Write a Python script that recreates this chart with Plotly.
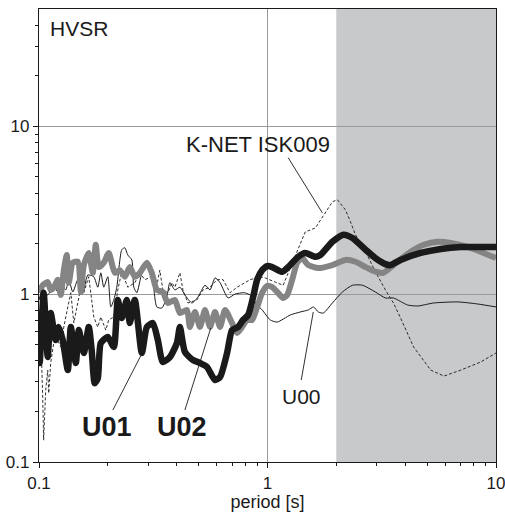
import numpy as np
import plotly.graph_objects as go

# ---- HVSR curves (period [s], H/V ratio) ----
knet_period = [0.100, 0.1017, 0.1038, 0.1048, 0.1070, 0.1092, 0.1103, 0.1125, 0.1160, 0.1208,
               0.1245, 0.1284, 0.1337, 0.1378, 0.1420, 0.1479, 0.1525, 0.1571, 0.1651, 0.1737,
               0.1808, 0.1864, 0.1960, 0.2020, 0.2125, 0.2212, 0.2303, 0.2447, 0.2626, 0.2763,
               0.2906, 0.3117, 0.3279, 0.3379, 0.3483, 0.3664, 0.3815, 0.3933, 0.4137, 0.4264,
               0.4485, 0.4912, 0.5220, 0.5602, 0.6013, 0.6390, 0.6858, 0.7361, 0.8396, 0.9290,
               0.9772, 1.081, 1.171, 1.257, 1.363, 1.463, 1.620, 1.738, 1.923, 2.023,
               2.193, 2.307, 2.426, 2.686, 2.966, 3.281, 3.559, 3.822, 4.361, 5.181,
               5.913, 7.018, 8.565, 10.0]
knet_hvsr = [0.805, 0.611, 0.244, 0.135, 0.268, 0.353, 0.257, 0.389, 0.511, 0.533,
             0.484, 0.637, 0.839, 1.02, 0.673, 0.899, 1.10, 1.02, 1.27, 0.731,
             0.637, 0.731, 0.611, 0.702, 0.731, 1.06, 1.36, 1.10, 1.17, 1.34,
             1.22, 1.27, 1.13, 1.39, 1.06, 1.02, 1.17, 1.10, 1.34, 1.06,
             0.886, 0.924, 1.06, 1.10, 1.22, 1.22, 1.02, 1.10, 1.22, 1.27,
             1.25, 1.18, 1.13, 1.43, 1.84, 2.35, 2.48, 2.89, 3.55, 3.65,
             3.18, 2.70, 2.26, 1.79, 1.36, 1.06, 0.886, 0.721, 0.484, 0.353,
             0.325, 0.353, 0.394, 0.446]

u00_period = [0.100, 0.1038, 0.1092, 0.1160, 0.1208, 0.1245, 0.1310, 0.1350, 0.1406, 0.1479,
              0.1556, 0.1635, 0.1737, 0.1808, 0.1864, 0.1921, 0.2000, 0.2062, 0.2125, 0.2190,
              0.2303, 0.2374, 0.2447, 0.2548, 0.2600, 0.2680, 0.2819, 0.2966, 0.3117, 0.3279,
              0.3448, 0.3627, 0.3739, 0.3933, 0.4137, 0.4351, 0.4670, 0.4962, 0.5326, 0.5602,
              0.5893, 0.6199, 0.6721, 0.7200, 0.7900, 0.8396, 0.9011, 0.9480, 1.028, 1.103,
              1.257, 1.391, 1.508, 1.590, 1.669, 1.756, 1.923, 2.128, 2.354, 2.605,
              2.966, 3.281, 3.559, 4.102, 4.541, 5.340, 6.804, 8.306, 10.0]
u00_hvsr = [0.924, 1.06, 0.989, 1.13, 1.03, 1.17, 1.06, 1.22, 1.03, 1.22,
            1.02, 1.30, 1.27, 1.10, 1.34, 1.10, 1.27, 0.839, 0.924, 1.10,
            1.84, 1.89, 1.71, 1.60, 1.10, 1.02, 1.34, 1.54, 1.34, 0.839,
            0.827, 0.962, 1.17, 1.06, 1.10, 0.989, 0.886, 0.962, 1.13, 1.06,
            1.25, 1.17, 0.949, 1.00, 1.02, 0.989, 0.862, 0.805, 0.702, 0.682,
            0.751, 0.783, 0.805, 0.839, 0.783, 0.772, 0.886, 1.03, 1.13, 1.13,
            1.03, 0.949, 0.949, 0.862, 0.850, 0.886, 0.899, 0.874, 0.839]

u02_period = [0.100, 0.1038, 0.1092, 0.1125, 0.1160, 0.1208, 0.1245, 0.1284, 0.1323, 0.1350,
              0.1406, 0.1479, 0.1525, 0.1571, 0.1651, 0.1719, 0.1772, 0.1827, 0.1921, 0.2020,
              0.2146, 0.2257, 0.2374, 0.2497, 0.2626, 0.2763, 0.2966, 0.3117, 0.3279, 0.3483,
              0.3664, 0.3933, 0.4137, 0.4440, 0.4576, 0.4814, 0.5064, 0.5326, 0.5602, 0.5893,
              0.6199, 0.6521, 0.6998, 0.7361, 0.7743, 0.8145, 0.8567, 0.9011, 0.9480, 0.9971,
              1.049, 1.103, 1.171, 1.219, 1.283, 1.349, 1.419, 1.508, 1.669, 1.923,
              2.193, 2.426, 2.686, 2.966, 3.216, 3.706, 4.230, 4.829, 5.561, 6.343,
              7.527, 8.830, 10.0]
u02_hvsr = [1.02, 1.13, 1.18, 1.06, 1.09, 1.22, 0.99, 1.39, 1.71, 1.17,
            1.54, 1.56, 1.03, 1.49, 1.76, 1.34, 1.97, 1.45, 1.54, 1.76,
            1.34, 1.39, 1.27, 1.45, 1.27, 1.34, 1.54, 1.34, 1.06, 1.03,
            0.886, 0.924, 0.772, 0.805, 0.637, 0.783, 0.637, 0.805, 0.637, 0.783,
            0.637, 0.805, 0.673, 0.587, 0.637, 0.702, 0.702, 0.839, 1.02, 1.12,
            1.10, 1.03, 0.949, 0.989, 1.22, 1.54, 1.64, 1.49, 1.43, 1.49,
            1.60, 1.56, 1.45, 1.36, 1.34, 1.56, 1.79, 1.97, 2.05, 2.02,
            1.91, 1.76, 1.64]

u01_period = [0.100, 0.1007, 0.1048, 0.1092, 0.1125, 0.1183, 0.1220, 0.1270, 0.1337, 0.1378,
              0.1449, 0.1494, 0.1571, 0.1651, 0.1700, 0.1754, 0.1808, 0.1864, 0.2000, 0.2125,
              0.2212, 0.2303, 0.2423, 0.2497, 0.2626, 0.2819, 0.2966, 0.3149, 0.3312, 0.3483,
              0.3739, 0.4013, 0.4137, 0.4351, 0.4718, 0.5064, 0.5435, 0.5893, 0.6199, 0.6654,
              0.6998, 0.7436, 0.7821, 0.8228, 0.8654, 0.9011, 0.9480, 0.9971, 1.049, 1.160,
              1.232, 1.363, 1.463, 1.620, 1.703, 1.923, 2.149, 2.354, 2.686, 2.966,
              3.281, 3.453, 3.822, 4.684, 5.736, 7.018, 8.565, 10.0]
u01_hvsr = [0.502, 0.389, 1.02, 0.422, 0.772, 0.533, 0.637, 0.533, 0.353, 0.637,
            0.389, 0.611, 0.446, 0.637, 0.465, 0.295, 0.315, 0.511, 0.555, 0.484,
            0.924, 0.720, 0.924, 0.673, 0.924, 0.446, 0.637, 0.673, 0.533, 0.394,
            0.422, 0.511, 0.637, 0.452, 0.405, 0.389, 0.368, 0.308, 0.321, 0.446,
            0.611, 0.637, 0.702, 0.751, 0.962, 1.22, 1.39, 1.47, 1.45, 1.36,
            1.45, 1.67, 1.76, 1.67, 1.71, 2.05, 2.26, 2.16, 1.84, 1.64,
            1.51, 1.49, 1.60, 1.76, 1.86, 1.91, 1.91, 1.91]

# ---- labels: text, label centre (period, ratio), leader start and end ----
labels = [
    dict(text="K-NET ISK009", at=(0.9085, 7.77), size=22, bold=False,
         lead=((1.232, 6.50), (1.738, 3.05))),
    dict(text="U00", at=(1.405, 0.247), size=21, bold=False,
         lead=((1.405, 0.308), (1.586, 0.783))),
    dict(text="U01", at=(0.1975, 0.1625), size=27, bold=True,
         lead=((0.2105, 0.204), (0.279, 0.430))),
    dict(text="U02", at=(0.4225, 0.1625), size=27, bold=True,
         lead=((0.4351, 0.204), (0.5648, 0.629))),
]

long_period_band = (2.0, 10.0)

FONT = "Liberation Sans, Arial, Helvetica, sans-serif"
INK = "#1a1a1a"
GREY_LINE = "#848484"

fig = go.Figure()

fig.add_vrect(x0=long_period_band[0], x1=long_period_band[1],
              fillcolor="#c8c9cb", line_width=0, layer="below")

fig.add_trace(go.Scatter(x=knet_period, y=knet_hvsr, mode="lines",
                         line=dict(color=INK, width=0.9, dash="3px,2px"),
                         hoverinfo="skip"))
fig.add_trace(go.Scatter(x=u00_period, y=u00_hvsr, mode="lines",
                         line=dict(color=INK, width=1.0, shape="spline", smoothing=0.6),
                         hoverinfo="skip"))
fig.add_trace(go.Scatter(x=u02_period, y=u02_hvsr, mode="lines",
                         line=dict(color=GREY_LINE, width=6, shape="spline", smoothing=0.6),
                         hoverinfo="skip"))
fig.add_trace(go.Scatter(x=u01_period, y=u01_hvsr, mode="lines",
                         line=dict(color=INK, width=6.5, shape="spline", smoothing=0.6),
                         hoverinfo="skip"))

for lab in labels:
    (x0, y0), (x1, y1) = lab["lead"]
    fig.add_trace(go.Scatter(x=[x0, x1], y=[y0, y1], mode="lines",
                             line=dict(color=INK, width=0.9), hoverinfo="skip"))
    txt = f"<b>{lab['text']}</b>" if lab["bold"] else lab["text"]
    fig.add_annotation(x=np.log10(lab["at"][0]), y=np.log10(lab["at"][1]),
                       xref="x", yref="y", text=txt, showarrow=False,
                       xanchor="center", yanchor="middle",
                       font=dict(family=FONT, size=lab["size"], color=INK))

fig.add_annotation(x=np.log10(0.1092), y=np.log10(38.5), xref="x", yref="y",
                   text="HVSR", showarrow=False, xanchor="left", yanchor="middle",
                   font=dict(family=FONT, size=21, color=INK))

minor_x = [0.2, 0.3, 0.4, 0.5, 0.6, 0.7, 0.8, 0.9, 2, 3, 4, 5, 6, 7, 8, 9]
minor_y = minor_x + [20, 30, 40]

axis_common = dict(
    type="log", showline=True, linecolor=INK, linewidth=1.2, mirror=True,
    ticks="outside", ticklen=5, tickcolor=INK, tickwidth=1,
    showgrid=True, gridcolor="#9a9a9a", gridwidth=1, zeroline=False,
    automargin=False, ticklabeloverflow="allow",
    tickfont=dict(family=FONT, size=17, color=INK),
)

fig.update_xaxes(range=[-1, 1], tickvals=[0.1, 1, 10], ticktext=["0.1", "1", "10"],
                 minor=dict(tickvals=minor_x, ticks="outside", ticklen=3,
                            tickcolor=INK, showgrid=False),
                 title=dict(text="period [s]", font=dict(family=FONT, size=18, color=INK),
                            standoff=3),
                 **axis_common)
fig.update_yaxes(range=[-1, np.log10(50)], tickvals=[0.1, 1, 10], ticktext=["0.1", "1", "10"],
                 minor=dict(tickvals=minor_y, ticks="outside", ticklen=3,
                            tickcolor=INK, showgrid=False),
                 **axis_common)

fig.update_layout(
    width=505, height=512, showlegend=False,
    margin=dict(l=39, r=9, t=9, b=50),
    plot_bgcolor="white", paper_bgcolor="white",
)

fig.write_html("out.html")
